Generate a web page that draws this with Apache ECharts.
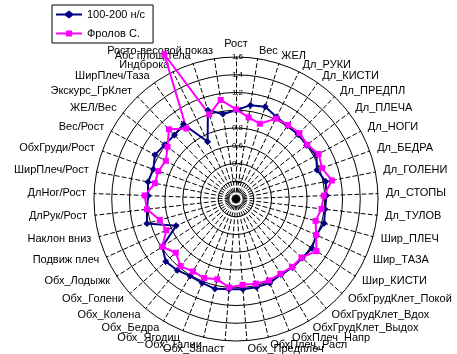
<!DOCTYPE html>
<html><head><meta charset="utf-8">
<script src="https://cdn.jsdelivr.net/npm/echarts@6/dist/echarts.min.js"></script>
<style>html,body{margin:0;padding:0;background:#fff}#c{width:457px;height:354px}</style>
</head><body><div id="c"></div>
<script>
var indicators = ['Рост','Вес','ЖЕЛ','Дл_РУКИ','Дл_КИСТИ','Дл_ПРЕДПЛ','Дл_ПЛЕЧА','Дл_НОГИ','Дл_БЕДРА','Дл_ГОЛЕНИ','Дл_СТОПЫ','Дл_ТУЛОВ','Шир_ПЛЕЧ','Шир_ТАЗА','Шир_КИСТИ','ОбхГрудКлет_Покой','ОбхГрудКлет_Вдох','ОбхГрудКлет_Выдох','ОбхПлеч_Напр','ОбхПлеч_Расл','Обх_Предплеч','Обх_Запаст','Обх_Талии','Обх_Ягодиц','Обх_Бедра','Обх_Колена','Обх_Голени','Обх_Лодыжк','Подвиж плеч','Наклон вниз','ДлРук/Рост','ДлНог/Рост','ШирПлеч/Рост','ОбхГруди/Рост','Вес/Рост','ЖЕЛ/Вес','Экскурс_ГрКлет','ШирПлеч/Таза','Индброка','Абс площ тела','Росто-весовой показ'];
var seriesNames = ['100-200 н/с','Фролов С.'];
var groupValues = [1.00,1.07,1.09,1.03,1.01,1.01,1.00,1.03,0.97,1.03,1.02,1.01,1.03,0.99,1.02,1.00,1.00,0.99,1.02,1.02,1.02,1.02,1.04,1.02,1.01,1.04,1.06,0.99,0.74,1.04,1.01,0.99,1.01,0.99,1.04,1.01,1.00,1.03,0.72,1.05,0.97];
var frolovValues = [1.01,0.93,0.89,1.01,1.02,1.03,1.01,1.06,1.03,1.10,0.99,0.97,0.93,0.99,1.08,0.99,0.99,0.98,0.99,0.98,0.97,1.00,0.93,0.96,0.95,0.98,0.91,0.99,0.86,0.89,1.01,1.03,0.93,0.93,0.90,0.97,1.09,0.97,1.82,1.00,1.13];
var scaleTicks = [0,0.2,0.4,0.6,0.8,1.0,1.2,1.4,1.6];

// ECharts lays indicators counter-clockwise; reorder so the chart reads clockwise like the original
function cw(arr){ return [arr[0]].concat(arr.slice(1).reverse()); }
var scaleMin = scaleTicks[0], scaleMax = scaleTicks[scaleTicks.length-1];
var chart = echarts.init(document.getElementById('c'), null, {renderer:'canvas'});
var ind = cw(indicators).map(function(n,i){
  var o = {name:n, min:scaleMin, max:scaleMax};
  if (i === 0) o.axisLabel = {show:true};
  return o;
});
var FONT = 'Arial, "Liberation Sans", sans-serif';
chart.setOption({
  backgroundColor:'#fff',
  animation:false,
  legend:{
    orient:'vertical', left:52, top:5,
    padding:[4,8,4,4], itemGap:8, itemWidth:26, itemHeight:8,
    borderColor:'#000', borderWidth:1,
    textStyle:{fontSize:11, color:'#000', fontFamily:FONT},
    data:[
      {name:seriesNames[0], icon:'path://M0,3 H9 L13,0 L17,3 H26 V5 H17 L13,8 L9,5 H0 Z', itemStyle:{color:'#000080'}},
      {name:seriesNames[1], icon:'path://M0,3 H10 V1 H16 V3 H26 V5 H16 V7 H10 V5 H0 Z', itemStyle:{color:'#FF00FF'}}
    ]
  },
  radar:{
    center:[236,199], radius:142, shape:'circle', startAngle:90,
    splitNumber:scaleTicks.length-1,
    indicator:ind,
    nameGap:8,
    axisName:{color:'#000', fontSize:11, fontFamily:FONT},
    axisLine:{show:true, lineStyle:{color:'#000', width:1, type:[4,3]}},
    splitLine:{show:true, lineStyle:{color:'#000', width:1}},
    splitArea:{show:false},
    axisTick:{show:false},
    axisLabel:{show:false, color:'#000', fontSize:8, fontFamily:FONT, margin:-7, align:'right',
      formatter:function(v){ return v===0 ? '' : String(Math.round(v*10)/10).replace('.',','); }}
  },
  series:[{
    type:'radar',
    data:[
      {name:seriesNames[0], value:cw(groupValues), symbol:'diamond', symbolSize:7,
       lineStyle:{color:'#000080', width:2}, itemStyle:{color:'#000080'}},
      {name:seriesNames[1], value:cw(frolovValues), symbol:'rect', symbolSize:6,
       lineStyle:{color:'#FF00FF', width:2}, itemStyle:{color:'#FF00FF'}}
    ]
  }]
});
</script></body></html>
